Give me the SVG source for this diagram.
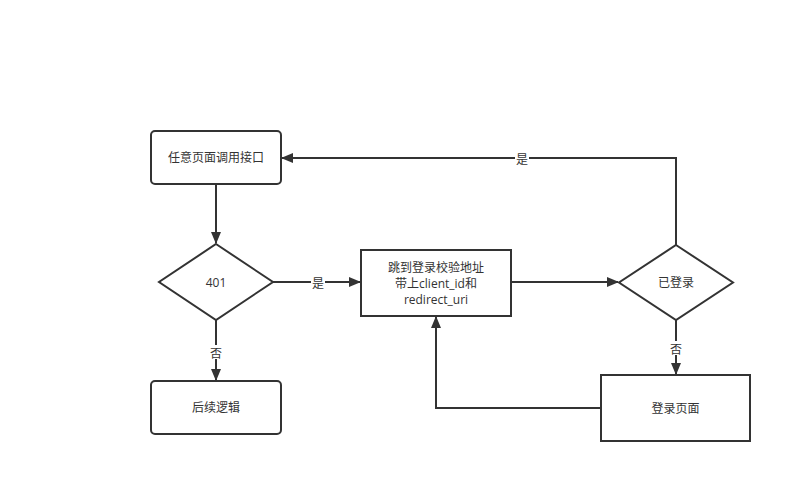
<svg xmlns="http://www.w3.org/2000/svg" width="810" height="500" viewBox="0 0 810 500">
<defs>
<marker id="arr" markerWidth="12" markerHeight="10" refX="11" refY="5" orient="auto" markerUnits="userSpaceOnUse">
<path d="M0,0 L12,5 L0,10 Z" fill="#333"/>
</marker>
<style>
.shape{fill:#fff;stroke:#333;stroke-width:2}
.edge{fill:none;stroke:#333;stroke-width:2;marker-end:url(#arr)}
.t{font-family:"Open Sans","Noto Sans CJK SC",sans-serif;font-size:12px;fill:#333;text-anchor:middle;dominant-baseline:central}
.lbl{font-family:"Noto Sans CJK SC",sans-serif;font-size:12px;fill:#333;text-anchor:middle;dominant-baseline:central}
.lblbg{fill:#fff}
</style>
</defs>
<rect width="810" height="500" fill="#fff"/>
<g id="connectors">
<path class="edge" d="M216,184 L216,243"/>
<path class="edge" d="M273,282 L360,282"/>
<path class="edge" d="M511,282 L618,282"/>
<path class="edge" d="M676,245 L676,158 L282,158"/>
<path class="edge" d="M676,320 L676,374"/>
<path class="edge" d="M601,408 L436,408 L436,317"/>
<path class="edge" d="M216,320 L216,380"/>
<rect class="lblbg" x="311" y="275" width="14" height="14"/>
<text class="lbl" x="318" y="282">是</text>
<rect class="lblbg" x="515" y="151" width="14" height="14"/>
<text class="lbl" x="522" y="158">是</text>
<rect class="lblbg" x="669" y="341" width="14" height="14"/>
<text class="lbl" x="676" y="348">否</text>
<rect class="lblbg" x="209" y="345" width="14" height="14"/>
<text class="lbl" x="216" y="352">否</text>
</g>
<g id="n1">
<rect class="shape" x="151" y="131" width="130" height="53" rx="4"/>
<text class="t" x="216" y="157.5">任意页面调用接口</text>
</g>
<g id="n2">
<path class="shape" d="M216,244 L273,282 L216,320 L159,282 Z"/>
<text class="t" x="216" y="282">401</text>
</g>
<g id="n3">
<rect class="shape" x="361" y="250" width="150" height="66"/>
<text class="t" x="436" y="267">跳到登录校验地址</text>
<text class="t" x="436" y="283">带上client_id和</text>
<text class="t" x="436" y="299">redirect_uri</text>
</g>
<g id="n4">
<path class="shape" d="M676,245 L733,282.5 L676,320 L619,282.5 Z"/>
<text class="t" x="676" y="282.5">已登录</text>
</g>
<g id="n5">
<rect class="shape" x="601" y="375" width="149" height="66"/>
<text class="t" x="675.5" y="408">登录页面</text>
</g>
<g id="n6">
<rect class="shape" x="151" y="381" width="130" height="53" rx="4"/>
<text class="t" x="216" y="407.5">后续逻辑</text>
</g>
</svg>
